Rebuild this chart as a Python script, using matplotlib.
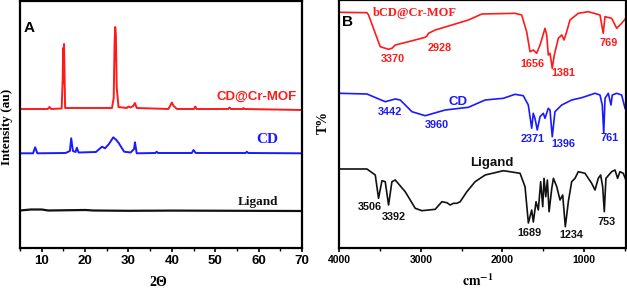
"""XRD (A) and FTIR (B) panels for Ligand, CD and CD@Cr-MOF."""

import matplotlib

matplotlib.use("Agg")
import matplotlib.pyplot as plt
from matplotlib.ticker import MultipleLocator

plt.rcParams["mathtext.fontset"] = "stix"

SANS = "Liberation Sans"
SERIF = "Liberation Serif"
RED = "#ff1a1a"
BLUE = "#1a1aff"
BLACK = "#111111"

# ---- panel A: XRD (2 theta, intensity in arbitrary units) ----
xrd_mof_x = [5, 11.4, 11.8, 12.2, 14.6, 14.85, 14.95, 15.05, 15.15, 15.4, 26.2, 26.6,
             26.8, 26.95, 27.1, 27.3, 27.7, 29.6, 30.0, 30.4, 31.1, 31.5, 31.9, 39.2,
             39.6, 40.0, 40.4, 41.2, 45.1, 45.4, 45.7, 53.0, 53.3, 53.6, 56.3, 56.5,
             56.7, 70]
xrd_mof_y = [139, 139, 141, 139, 139.5, 170, 200, 165, 204, 140, 140, 150,
             205, 221, 213, 160, 141, 140, 141.5, 140.5, 142, 145, 140, 139,
             142, 145.5, 142, 139, 139, 141.5, 139, 139, 140.5, 139, 139, 140,
             139, 138]

xrd_cd_x = [5, 8.0, 8.5, 9.0, 15.5, 16.5, 16.8, 17.2, 17.8, 18.1, 18.5, 22.5, 23.9,
            24.6, 25.5, 26.5, 27.2, 27.7, 29.0, 30.5, 31.3, 31.5, 31.9, 36.2, 36.5,
            36.8, 44.6, 45.0, 45.5, 57.0, 57.3, 57.6, 70]
xrd_cd_y = [94.7, 94.7, 100.7, 94.7, 95, 97, 109.7, 97, 96, 100.3, 95.5, 96, 101.3,
            99.7, 104, 110.7, 108, 105.3, 96.3, 95.5, 99, 105.7, 94.7, 95, 96.3,
            95, 95, 98, 95, 95, 96.3, 95, 94.7]

xrd_lig_x = [5, 7.5, 10, 11.5, 20, 22, 30, 40, 55, 70]
xrd_lig_y = [37.5, 38.5, 38.5, 37.5, 38, 37.5, 37.2, 37.4, 37.2, 37]

# ---- panel B: FTIR (wavenumber, transmittance in arbitrary units) ----
ir_mof_wn = [4000, 3661, 3641, 3559, 3498, 3396, 3355, 3314, 3151, 2947, 2926, 2907,
             2824, 2620, 2417, 2253, 1846, 1764, 1703, 1662, 1622, 1580, 1539, 1478,
             1457, 1438, 1417, 1389, 1364, 1315, 1273, 1245, 1212, 1172, 1070, 947,
             804, 764, 743, 661, 599, 538, 489]
ir_mof_t = [235.7, 235.3, 233, 214.7, 201.3, 198.7, 199.7, 203, 206.3, 210.7, 212, 214.7,
            218, 223, 228, 234, 234.7, 233, 216.3, 196.3, 198, 194.7, 203, 219.7,
            213, 193, 194.7, 179.7, 193, 209.7, 213, 208, 216.3, 228, 234.7, 236.3,
            233, 214.7, 231.3, 229.7, 219.7, 224.7, 229.7]

ir_cd_wn = [4000, 3661, 3437, 3314, 3253, 3110, 2947, 2702, 2417, 2212, 1988, 1846,
            1744, 1683, 1641, 1622, 1601, 1573, 1539, 1499, 1478, 1438, 1417, 1389,
            1356, 1273, 1151, 1028, 865, 804, 776, 758, 742, 702, 669, 653, 599, 538,
            497]
ir_cd_t = [154.7, 154, 146.3, 149, 148, 136.3, 132.3, 138, 140.7, 148, 149.7, 153.7,
           152.3, 143, 119.7, 134.7, 129.7, 118, 131.3, 134.7, 129.7, 139.7, 138, 111.3,
           136.3, 143, 148, 150.3, 154.7, 153, 143, 114.7, 149.7, 154.7, 143, 153, 154.7,
           153, 139.7]

ir_lig_wn = [4000, 3661, 3559, 3519, 3477, 3437, 3396, 3355, 3314, 3192, 3069, 2987,
             2824, 2742, 2681, 2641, 2600, 2559, 2518, 2436, 2335, 2212, 1988, 1784,
             1723, 1682, 1641, 1621, 1588, 1560, 1531, 1506, 1490, 1469, 1449, 1428,
             1395, 1375, 1334, 1294, 1261, 1229, 1192, 1151, 1110, 1070, 988, 906, 865,
             825, 796, 771, 751, 731, 661, 620, 588, 559, 519, 478]
ir_lig_t = [79, 79, 73, 49.7, 67.3, 66.3, 43, 66.3, 68, 56.3, 39.7, 37.3,
            38.7, 46.3, 45.3, 43, 44.7, 44.7, 46.3, 56.3, 66.3, 73, 77.3, 74.7,
            61.3, 25, 38, 26, 46.3, 38, 66.3, 41.3, 69.7, 51.3, 68, 36.3,
            59.7, 69.7, 61.3, 48, 53, 21.3, 46.3, 66.3, 69.7, 76.3, 74.7, 64.7, 58,
            69.7, 73, 61.3, 36.3, 69.7, 76.3, 78, 69.7, 76.3, 74.7, 66.3]


def style_axes(ax):
    for s in ax.spines.values():
        s.set_linewidth(1.6)
        s.set_color("black")
    ax.set_yticks([])
    ax.tick_params(axis="x", which="major", direction="out", length=3, width=1.2, pad=2)
    ax.tick_params(axis="x", which="minor", direction="out", length=2, width=1.0)
    for lab in ax.get_xticklabels():
        lab.set_fontfamily(SANS)
        lab.set_fontweight("bold")


def plot_xrd(ax):
    ax.plot(xrd_mof_x, xrd_mof_y, color=RED, lw=1.4)
    ax.plot(xrd_cd_x, xrd_cd_y, color=BLUE, lw=1.4)
    ax.plot(xrd_lig_x, xrd_lig_y, color=BLACK, lw=1.6)
    ax.set_xlim(5, 70)
    ax.set_ylim(0, 247)
    ax.xaxis.set_minor_locator(MultipleLocator(5))
    ax.set_xticks(range(10, 71, 10))
    ax.set_xticklabels([str(v) for v in range(10, 71, 10)], fontsize=9.5)
    style_axes(ax)

    ax.text(7.1, 220, "A", fontsize=11, fontweight="bold", family=SANS, ha="center", va="center")
    ax.text(59.6, 151, "CD@Cr-MOF", color=RED, fontsize=9.5, fontweight="bold",
            family=SANS, ha="center", va="center")
    ax.text(61.9, 108, "CD", color=BLUE, fontsize=11, fontweight="bold",
            family=SERIF, ha="center", va="center")
    ax.text(59.9, 46.3, "Ligand", color=BLACK, fontsize=9.5, fontweight="bold",
            family=SERIF, ha="center", va="center")


def plot_ftir(ax):
    ax.plot(ir_mof_wn, ir_mof_t, color=RED, lw=1.2)
    ax.plot(ir_cd_wn, ir_cd_t, color=BLUE, lw=1.2)
    ax.plot(ir_lig_wn, ir_lig_t, color=BLACK, lw=1.2)
    ax.set_xlim(4000, 485)
    ax.set_ylim(0, 248)
    ax.set_xticks([4000, 3000, 2000, 1000])
    ax.set_xticklabels(["4000", "3000", "2000", "1000"], fontsize=7.5)
    ax.xaxis.set_minor_locator(MultipleLocator(500))
    style_axes(ax)

    ax.text(3897, 226, "B", fontsize=11, fontweight="bold", family=SANS, ha="center", va="center")
    ax.text(3072, 235, "bCD@Cr-MOF", color=RED, fontsize=9, fontweight="bold",
            family=SERIF, ha="center", va="center")
    ax.text(2548, 146.3, "CD", color=BLUE, fontsize=9.5, fontweight="bold",
            family=SANS, ha="center", va="center")
    ax.text(2132, 84.7, "Ligand", color=BLACK, fontsize=9.5, fontweight="bold",
            family=SANS, ha="center", va="center")

    peak_labels = [
        ("3370", 3341, 189, RED), ("2928", 2765, 200, RED), ("1656", 1634, 183.7, RED),
        ("1381", 1254, 174.7, RED), ("769", 694, 204.7, RED),
        ("3442", 3378, 136.3, BLUE), ("3960", 2806, 123, BLUE), ("2371", 1634, 108.7, BLUE),
        ("1396", 1254, 104, BLUE), ("761", 690, 109.7, BLUE),
        ("3506", 3624, 40.7, BLACK), ("3392", 3326, 31.3, BLACK), ("1689", 1671, 15.3, BLACK),
        ("1234", 1151, 13, BLACK), ("753", 722, 26.3, BLACK),
    ]
    for txt, x, y, c in peak_labels:
        ax.text(x, y, txt, color=c, fontsize=7.8, fontweight="bold", family=SANS,
                ha="center", va="center")


def main():
    fig = plt.figure(figsize=(6.27, 2.90), dpi=100)
    ax_a = fig.add_axes([20 / 627, 42 / 290, 282 / 627, 247 / 290])
    ax_b = fig.add_axes([339.3 / 627, 42 / 290, 286.7 / 627, 248 / 290])

    plot_xrd(ax_a)
    plot_ftir(ax_b)

    fig.text(7 / 627, 1 - 127 / 290, "Intensity (au)", rotation=90, fontsize=9.5,
             fontweight="bold", family=SERIF, ha="center", va="center")
    fig.text(158 / 627, 1 - 282 / 290, "2Θ", fontsize=10, fontweight="bold",
             family=SERIF, ha="center", va="center")
    fig.text(323 / 627, 1 - 122 / 290, "T%", rotation=90, fontsize=10,
             fontweight="bold", family=SERIF, ha="center", va="center")
    fig.text(478 / 627, 1 - 281 / 290, r"$\mathbf{cm^{-1}}$", fontsize=10,
             ha="center", va="center")

    fig.savefig("out.png", dpi=100)


if __name__ == "__main__":
    main()
